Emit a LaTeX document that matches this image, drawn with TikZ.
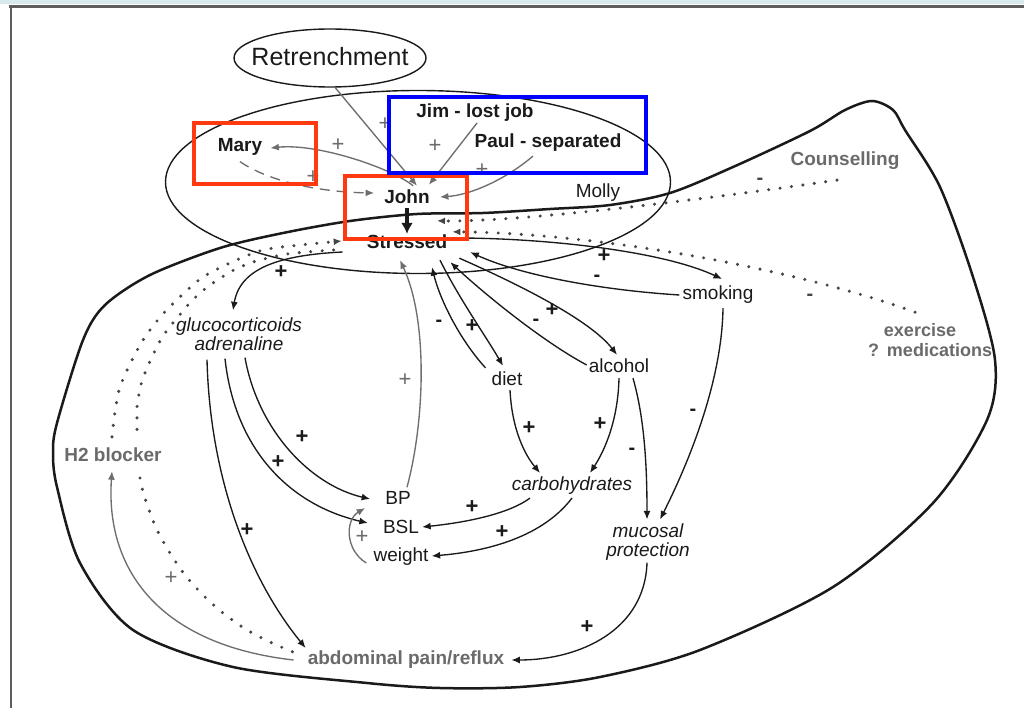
\documentclass[tikz,border=0pt]{standalone}
\usepackage{fontspec}
\setmainfont{Liberation Sans}
\usetikzlibrary{arrows.meta,shapes.geometric}
\definecolor{txtgray}{HTML}{6A6A6A}
\definecolor{lnkgray}{HTML}{6E6E6E}
\definecolor{dotgray}{HTML}{454545}
\definecolor{hired}{HTML}{FF3A10}
\definecolor{hiblue}{HTML}{0000FF}
\definecolor{band}{HTML}{D8EAEC}
\definecolor{rulegray}{HTML}{5E5E5E}
\definecolor{ink}{HTML}{1A1A1A}

\begin{document}
\begin{tikzpicture}[x=1pt,y=-1pt,
  lbl/.style={inner sep=1pt, text=ink, font=\fontsize{19}{19}\selectfont},
  bold/.style={lbl, font=\fontsize{19}{19}\selectfont\bfseries},
  ital/.style={lbl, align=center, font=\fontsize{19}{19}\selectfont\itshape},
  grey/.style={text=txtgray},
  arr/.style={-{Latex[length=8.5pt,width=7pt]}, line width=1.35pt, draw=ink},
  garr/.style={arr, draw=lnkgray},
  dots/.style={line width=3.4pt, line cap=round, dash pattern=on 0pt off 11.5pt, draw=dotgray},
  dotarr/.style={dots, -{Latex[length=8pt,width=7pt]}},
  sgn/.style={inner sep=0pt, text=ink, font=\fontsize{22}{22}\selectfont\bfseries},
  msgn/.style={inner sep=0pt, text=ink, font=\fontsize{20}{20}\selectfont\bfseries},
  gsgn/.style={inner sep=0pt, text=txtgray, font=\fontsize{22}{22}\selectfont},
  dsgn/.style={inner sep=0pt, text=dotgray, font=\fontsize{20}{20}\selectfont\bfseries},
  ring/.style={draw=ink, line width=1.4pt, ellipse, inner sep=0pt},
  hilite/.style={line width=3.4pt}
]
\useasboundingbox (0,0) rectangle (1024,708);
\fill[white] (0,0) rectangle (1024,708);

% page frame
\fill[band] (0,0) rectangle (1024,4);
\draw[rulegray, line width=2.5pt] (9,6.5) -- (1024,6.5);
\draw[rulegray, line width=2pt] (10.5,6) -- (10.5,708);

% outer boundary of the system
\draw[ink, line width=2.5pt] plot[smooth cycle] coordinates {
  (83,340) (105,305) (150,275) (220,248) (283,233) (350,221) (417,214)
  (483,213) (550,209) (610,205) (670,193) (733,167) (810,131) (845,110)
  (872,101) (893,110) (905,130) (940,187) (973,277) (995,360) (987,420)
  (933,503) (833,587) (700,650) (600,677) (520,687) (440,688) (367,683)
  (233,667) (133,630) (80,563) (57,487) (53,453) (57,423)};

% the two rings
\node[ring, minimum width=505pt, minimum height=183pt] (mollyring) at (418,182) {};
\node[ring, minimum width=192pt, minimum height=58pt] (retr) at (330,58) {};

% labels
\node[lbl, font=\fontsize{25}{25}\selectfont] (retrtxt) at (330,57) {Retrenchment};
\node[bold] (jim) at (475,113) {Jim - lost job};
\node[bold] (paul) at (548,143) {Paul - separated};
\node[bold] (mary) at (240,147) {Mary};
\node[bold] (john) at (407,197) {John};
\node[bold] (stressed) at (407,242) {Stressed};
\node[lbl] (molly) at (598,193) {Molly};
\node[bold, grey] (counsel) at (845,161) {Counselling};
\node[bold, grey, font=\fontsize{18}{18}\selectfont\bfseries] (exer) at (920,330) {exercise};
\node[bold, grey, font=\fontsize{18}{18}\selectfont\bfseries] (meds) at (930,350) {?\ \,medications};
\node[lbl] (smoking) at (718,295) {smoking};
\node[ital] (gluco) at (239,334) {glucocorticoids\\adrenaline};
\node[lbl] (diet) at (507,379) {diet};
\node[lbl] (alcohol) at (619,366) {alcohol};
\node[ital] (carbs) at (572,486) {carbohydrates};
\node[lbl] (bp) at (398,498) {BP};
\node[lbl] (bsl) at (401,527) {BSL};
\node[lbl] (weight) at (401,557) {weight};
\node[ital] (mucosal) at (648,542) {mucosal\\protection};
\node[bold, grey] (h2) at (113,455) {H2 blocker};
\node[bold, grey] (abdo) at (406,660) {abdominal pain/reflux};

% people around John
\draw[garr] (retr.-80) -- ([shift={(10,-3)}]john.north);
\draw[garr] ([shift={(2,0)}]jim.south) -- ([shift={(-2,-4)}]john.north east);
\draw[garr] ([shift={(-15,3)}]paul.south) .. controls (505,180) and (470,195) .. ([shift={(9,0)}]john.east);
\draw[garr] ([shift={(6,-3)}]john.north) .. controls (395,170) and (320,143) .. ([shift={(7,1)}]mary.east);
\draw[garr, dash pattern=on 10pt off 7pt] ([shift={(0,5)}]mary.south) .. controls (270,182) and (320,192) .. ([shift={(-9,-4)}]john.west);
\draw[ink, line width=3.4pt, -{Latex[length=11pt,width=12pt]}, shorten <=3pt] (john.south) -- (stressed.north);

% interventions (dotted)
\draw[dotarr] ([shift={(-8,9)}]counsel.south) .. controls (700,200) and (520,222) .. ([shift={(30,-13)}]stressed.north);
\draw[dotarr] ([shift={(-5,-10)}]exer.north) .. controls (800,270) and (600,233) .. ([shift={(4,-2)}]stressed.north east);
\draw[dotarr] plot[smooth] coordinates {([shift={(-1,-10)}]h2.north) (115,412) (120,387)
  (132,360) (145,337) (162,315) (182,295) (203,277) (230,263) (263,250) (300,245)
  ([shift={(-24,-1)}]stressed.west)};
\draw[dots] plot[smooth] coordinates {([shift={(-32,8)}]stressed.west) (307,252) (287,254)
  (268,258) (250,263) (232,271) (213,283) (200,293) (188,305) (178,317) (168,329)
  (160,341) (153,355) (147,368) (142,381) (139,394) (137,407) (137,420) (137,433)}
  plot[smooth] coordinates {(140,478) (143,492) (148,507) (157,530) (170,553) (185,575)
  (203,595) (223,613) (247,630) (272,643) ([shift={(-11,-7)}]abdo.west)};
\draw[garr] ([shift={(-13,0)}]abdo.west) .. controls (160,645) and (105,570) .. ([shift={(-1,8)}]h2.south);

% physiological links
\draw[arr] ([shift={(-23,10)}]stressed.west) .. controls (280,255) and (240,268) .. ([shift={(-6,-6)}]gluco.north);
\draw[arr] ([shift={(-32,8)}]gluco.south) .. controls (210,480) and (250,580) .. ([shift={(-1,-2)}]abdo.north west);
\draw[arr] ([shift={(-14,7)}]gluco.south) .. controls (235,450) and (290,505) .. ([shift={(-14,-4)}]bsl.west);
\draw[arr] ([shift={(6,6)}]gluco.south) .. controls (258,430) and (310,485) .. ([shift={(-14,1)}]bp.west);
\draw[garr] ([shift={(9,-3)}]bp.north) .. controls (425,420) and (428,320) .. ([shift={(-7,10)}]stressed.south);
\draw[garr] ([shift={(-6,6)}]weight.west) .. controls (345,550) and (345,520) .. ([shift={(-19,10)}]bp.west);
\draw[arr] ([shift={(-42,2)}]carbs.south) .. controls (510,513) and (470,522) .. ([shift={(2,0)}]bsl.east);
\draw[arr] ([shift={(0,2)}]carbs.south) .. controls (540,540) and (480,552) .. ([shift={(2,-1)}]weight.east);
\draw[arr] ([shift={(3,3)}]diet.south) .. controls (512,430) and (525,455) .. ([shift={(-32,-3)}]carbs.north);
\draw[arr] ([shift={(0,4)}]alcohol.south) .. controls (618,420) and (605,450) .. ([shift={(18,-3)}]carbs.north);
\draw[arr] ([shift={(14,4)}]alcohol.south) .. controls (645,420) and (647,470) .. ([shift={(-1,-3)}]mucosal.north);
\draw[arr] ([shift={(5,3)}]smoking.south) .. controls (722,380) and (690,460) .. ([shift={(12,-3)}]mucosal.north);
\draw[arr] ([shift={(-1,1)}]mucosal.south) .. controls (645,630) and (580,660) .. ([shift={(6,0)}]abdo.east);

% behaviours feeding back on the stress
\draw[arr] ([shift={(-5,-3)}]diet.north west) .. controls (460,340) and (440,300) .. ([shift={(25,17)}]stressed.south);
\draw[arr] ([shift={(33,10)}]stressed.south) .. controls (460,300) and (485,335) .. ([shift={(-4,-5)}]diet.north);
\draw[arr] ([shift={(11,8)}]stressed.south east) .. controls (520,285) and (590,320) .. ([shift={(-2,-3)}]alcohol.north);
\draw[arr] ([shift={(-1,-1)}]alcohol.west) .. controls (540,340) and (480,290) .. ([shift={(2,12)}]stressed.south east);
\draw[arr] ([shift={(-2,0)}]smoking.west) .. controls (600,290) and (520,275) .. ([shift={(22,2)}]stressed.south east);
\draw[arr] ([shift={(8,-4)}]stressed.east) .. controls (540,238) and (660,250) .. ([shift={(4,-6)}]smoking.north);

% polarity signs
\node[sgn] (p1) at (281,272) {+};
\node[sgn] (p2) at (302,437) {+};
\node[sgn] (p3) at (278,462) {+};
\node[sgn] (p4) at (247,530) {+};
\node[sgn] (p5) at (472,507) {+};
\node[sgn] (p6) at (502,532) {+};
\node[sgn] (p7) at (529,428) {+};
\node[sgn] (p8) at (600,424) {+};
\node[sgn] (p9) at (472,326) {+};
\node[sgn] (p10) at (552,310) {+};
\node[sgn] (p11) at (604,256) {+};
\node[sgn] (p12) at (587,627) {+};
\node[msgn] (m1) at (439,323) {-};
\node[msgn] (m2) at (536,322) {-};
\node[msgn] (m3) at (597,278) {-};
\node[msgn] (m4) at (632,451) {-};
\node[msgn] (m5) at (693,412) {-};
\node[gsgn] (g1) at (385,124) {+};
\node[gsgn] (g2) at (435,146) {+};
\node[gsgn] (g3) at (482,170) {+};
\node[gsgn] (g4) at (338,145) {+};
\node[gsgn] (g5) at (313,177) {+};
\node[gsgn] (g6) at (405,380) {+};
\node[gsgn] (g7) at (362,537) {+};
\node[gsgn] (g8) at (171,578) {+};
\node[dsgn] (d1) at (760,181) {-};
\node[dsgn] (d2) at (810,297) {-};

% highlight frames
\draw[hired, hilite] (194,123) rectangle (316,184);
\draw[hired, hilite] (345,176) rectangle (467,239);
\draw[hiblue, hilite] (389,97) rectangle (646,173);
\end{tikzpicture}
\end{document}
